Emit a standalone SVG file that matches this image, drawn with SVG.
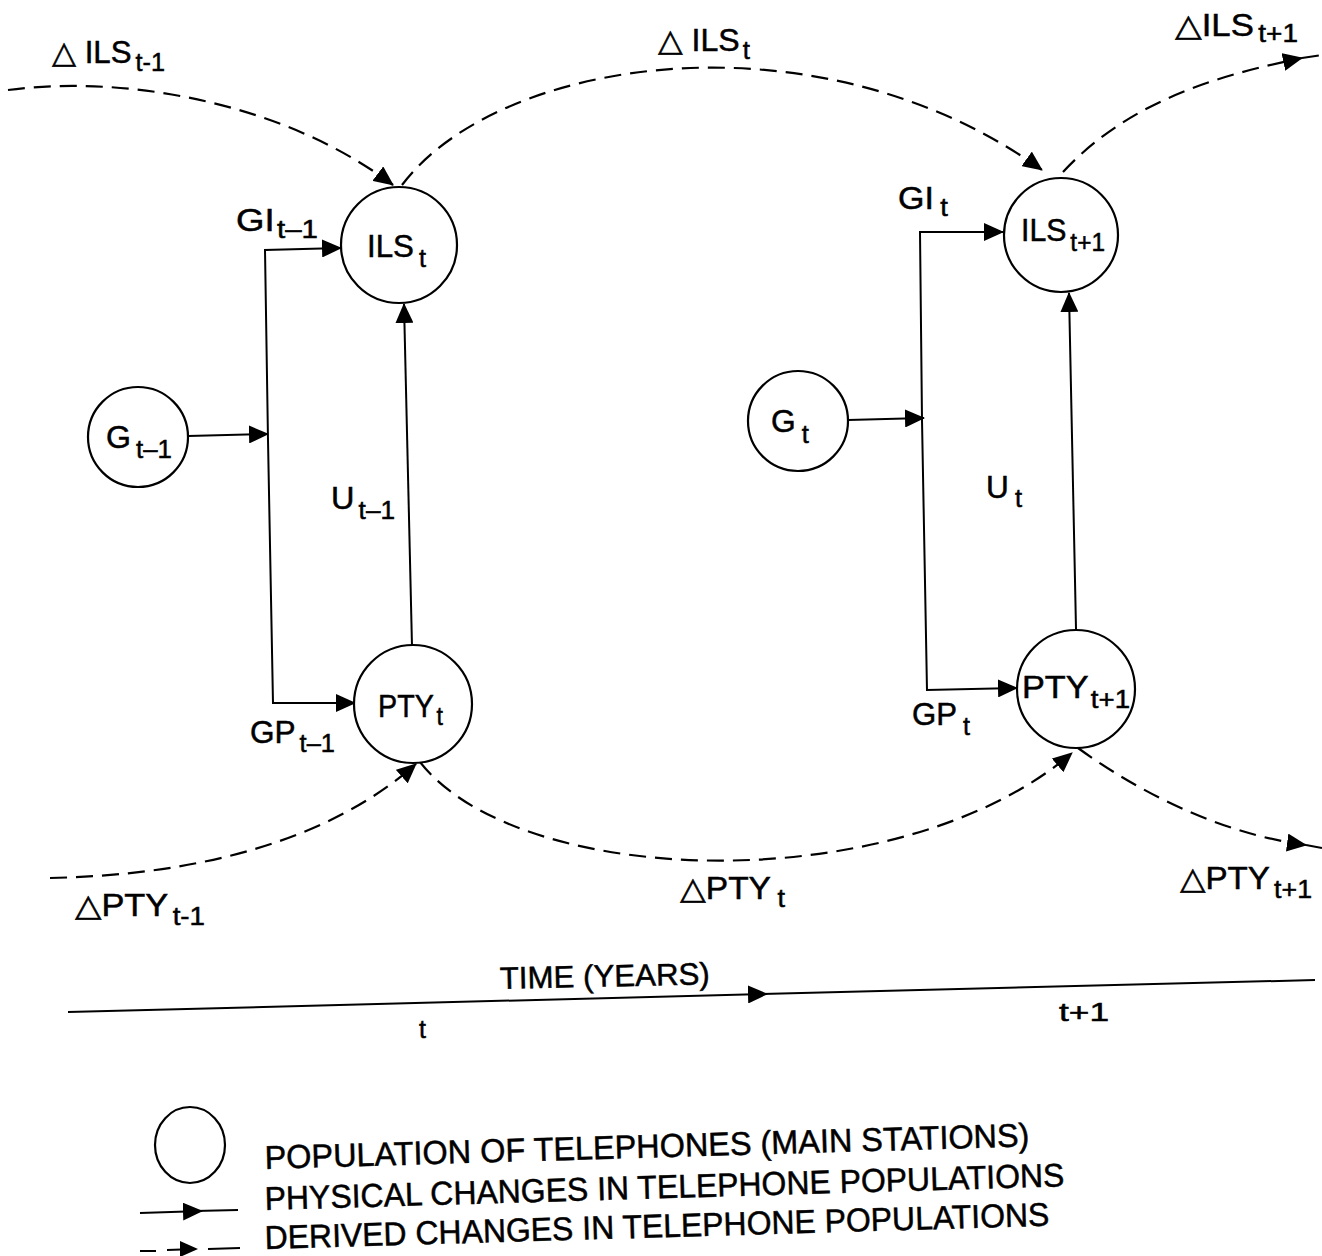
<svg xmlns="http://www.w3.org/2000/svg" width="1322" height="1256" viewBox="0 0 1322 1256">
<style>
text{font-family:"Liberation Sans","DejaVu Sans",sans-serif;font-size:31px;fill:#000;stroke:#000;stroke-width:0.5}
.sub{font-size:25px}
.node{fill:#fff;stroke:#000;stroke-width:2.2}
.solid{fill:none;stroke:#000;stroke-width:2}
.dash{fill:none;stroke:#000;stroke-width:2.2;stroke-dasharray:17 9}
.leg{font-size:33px}
</style>
<defs>
<marker id="ah" viewBox="0 0 20 18" refX="19" refY="9" markerWidth="20" markerHeight="18" markerUnits="userSpaceOnUse" orient="auto">
<path d="M0 0 L20 9 L0 18 Z" fill="#000"/>
</marker>
</defs>
<rect width="1322" height="1256" fill="#fff"/>

<g id="connectors">
<path class="dash" d="M8 90 C120 75 280 100 393 185" marker-end="url(#ah)"/>
<path class="dash" d="M402 185 C500 55 820 10 1042 170" marker-end="url(#ah)"/>
<path class="dash" d="M1063 172 C1130 100 1220 75 1302 58" marker-end="url(#ah)"/>
<path class="dash" d="M1302 58 L1322 55"/>
<path class="dash" d="M50 878 C200 875 330 840 416 764" marker-end="url(#ah)"/>
<path class="dash" d="M420 762 C520 890 900 900 1072 753" marker-end="url(#ah)"/>
<path class="dash" d="M1078 748 C1150 800 1230 835 1306 845" marker-end="url(#ah)"/>
<path class="dash" d="M1306 845 L1322 848"/>

<path class="solid" d="M188 436 L268 434" marker-end="url(#ah)"/>
<path class="solid" d="M268 440 L265 250 L341 248" marker-end="url(#ah)"/>
<path class="solid" d="M268 440 L273 703 L355 703" marker-end="url(#ah)"/>
<path class="solid" d="M412 646 L404 304" marker-end="url(#ah)"/>

<path class="solid" d="M848 420 L924 418" marker-end="url(#ah)"/>
<path class="solid" d="M922 420 L920 232 L1003 232" marker-end="url(#ah)"/>
<path class="solid" d="M922 420 L927 690 L1017 688" marker-end="url(#ah)"/>
<path class="solid" d="M1076 629 L1069 293" marker-end="url(#ah)"/>

<path class="solid" d="M68 1012 L767 994" marker-end="url(#ah)"/>
<path class="solid" d="M760 994 L1315 980"/>
</g>

<g id="node-ILSt"><circle class="node" cx="399" cy="245" r="58"/><text x="367" y="257" textLength="59" lengthAdjust="spacingAndGlyphs">ILS<tspan class="sub" dx="5" dy="10">t</tspan></text></g>
<g id="node-PTYt"><circle class="node" cx="413" cy="704" r="59"/><text x="378" y="717" textLength="65" lengthAdjust="spacingAndGlyphs">PTY<tspan class="sub" dx="3" dy="8">t</tspan></text></g>
<g id="node-Gt-1"><circle class="node" cx="138" cy="437" r="50"/><text x="106" y="448" textLength="66" lengthAdjust="spacingAndGlyphs">G<tspan class="sub" dx="5" dy="10">t–1</tspan></text></g>
<g id="node-Gt"><circle class="node" cx="798" cy="421" r="50"/><text x="771" y="432" textLength="38" lengthAdjust="spacingAndGlyphs">G<tspan class="sub" dx="6" dy="11">t</tspan></text></g>
<g id="node-ILSt1"><circle class="node" cx="1061" cy="235" r="57"/><text x="1021" y="241" textLength="84" lengthAdjust="spacingAndGlyphs">ILS<tspan class="sub" dx="4" dy="10">t+1</tspan></text></g>
<g id="node-PTYt1"><circle class="node" cx="1076" cy="689" r="59"/><text x="1022" y="698" textLength="108" lengthAdjust="spacingAndGlyphs">PTY<tspan class="sub" dx="2" dy="10">t+1</tspan></text></g>

<g id="labels">
<text x="52" y="63" textLength="113" lengthAdjust="spacingAndGlyphs">△ ILS<tspan class="sub" dx="4" dy="8">t-1</tspan></text>
<text x="658" y="51" textLength="92" lengthAdjust="spacingAndGlyphs">△ ILS<tspan class="sub" dx="3" dy="8">t</tspan></text>
<text x="1175" y="36" textLength="123" lengthAdjust="spacingAndGlyphs">△ILS<tspan class="sub" dx="4" dy="6">t+1</tspan></text>
<text x="236" y="231" textLength="82" lengthAdjust="spacingAndGlyphs">GI<tspan class="sub" dx="2" dy="7">t–1</tspan></text>
<text x="898" y="209" textLength="50" lengthAdjust="spacingAndGlyphs">GI<tspan class="sub" dx="6" dy="7">t</tspan></text>
<text x="331" y="509" textLength="64" lengthAdjust="spacingAndGlyphs">U<tspan class="sub" dx="4" dy="10">t–1</tspan></text>
<text x="986" y="498" textLength="36" lengthAdjust="spacingAndGlyphs">U<tspan class="sub" dx="6" dy="9">t</tspan></text>
<text x="250" y="743" textLength="85" lengthAdjust="spacingAndGlyphs">GP<tspan class="sub" dx="4" dy="9">t–1</tspan></text>
<text x="912" y="725" textLength="58" lengthAdjust="spacingAndGlyphs">GP<tspan class="sub" dx="6" dy="10">t</tspan></text>
<text x="75" y="916" textLength="130" lengthAdjust="spacingAndGlyphs">△PTY<tspan class="sub" dx="4" dy="9">t-1</tspan></text>
<text x="680" y="899" textLength="105" lengthAdjust="spacingAndGlyphs">△PTY<tspan class="sub" dx="6" dy="8">t</tspan></text>
<text x="1180" y="889" textLength="132" lengthAdjust="spacingAndGlyphs">△PTY<tspan class="sub" dx="4" dy="9">t+1</tspan></text>
<text x="500" y="989" transform="rotate(-1.3 500 989)" textLength="210" lengthAdjust="spacingAndGlyphs">TIME (YEARS)</text>
<text x="419" y="1038" class="sub">t</text>
<text x="1059" y="1021" class="sub" textLength="50" lengthAdjust="spacingAndGlyphs">t+1</text>
</g>

<g id="legend">
<ellipse class="node" cx="190" cy="1145" rx="35" ry="38"/>
<path class="solid" d="M140 1213 L202 1211" marker-end="url(#ah)"/>
<path class="solid" d="M195 1211 L238 1210"/>
<path class="solid" d="M140 1251 L156 1251 M167 1250 L196 1249 M208 1249 L240 1248"/>
<path d="M180 1241 L198 1249 L180 1257 Z" fill="#000"/>
<text class="leg" x="265" y="1169" transform="rotate(-1.7 265 1169)" textLength="765" lengthAdjust="spacingAndGlyphs">POPULATION OF TELEPHONES (MAIN STATIONS)</text>
<text class="leg" x="265" y="1210" transform="rotate(-1.7 265 1210)" textLength="800" lengthAdjust="spacingAndGlyphs">PHYSICAL CHANGES IN TELEPHONE POPULATIONS</text>
<text class="leg" x="265" y="1249" transform="rotate(-1.7 265 1249)" textLength="785" lengthAdjust="spacingAndGlyphs">DERIVED CHANGES IN TELEPHONE POPULATIONS</text>
</g>
</svg>
